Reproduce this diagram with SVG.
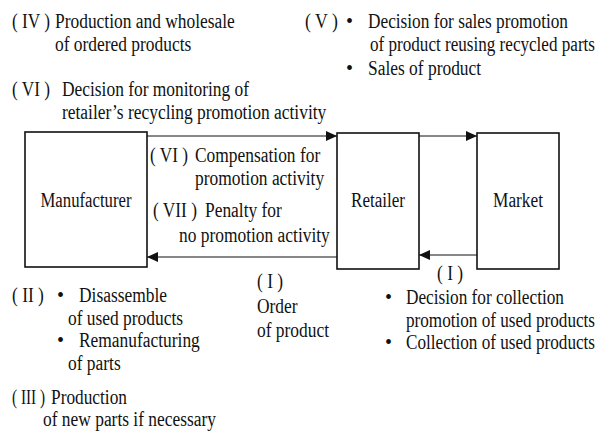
<svg xmlns="http://www.w3.org/2000/svg" width="602" height="439" viewBox="0 0 602 439">
<defs>
  <marker id="ah" markerUnits="userSpaceOnUse" markerWidth="12" markerHeight="10" refX="11" refY="5" orient="auto">
    <path d="M0,0 L11,5 L0,10 z" fill="#111"/>
  </marker>
</defs>
<rect width="602" height="439" fill="#fff"/>

<g id="connectors" stroke="#111" stroke-width="1" fill="none" marker-end="url(#ah)">
  <line x1="147" y1="136" x2="337" y2="136"/>
  <line x1="337" y1="257" x2="147" y2="257"/>
  <line x1="419" y1="136" x2="477" y2="136"/>
  <line x1="477" y1="255" x2="419" y2="255"/>
</g>

<g id="manufacturer">
  <rect x="25" y="132" width="122" height="135" fill="#fff" stroke="#111" stroke-width="1.6"/>
  <text x="86" y="207" font-family="Liberation Serif" font-size="20" fill="#111" text-anchor="middle" textLength="91" lengthAdjust="spacingAndGlyphs">Manufacturer</text>
</g>
<g id="retailer">
  <rect x="337" y="133" width="82" height="136" fill="#fff" stroke="#111" stroke-width="1.6"/>
  <text x="378" y="207" font-family="Liberation Serif" font-size="20" fill="#111" text-anchor="middle" textLength="54" lengthAdjust="spacingAndGlyphs">Retailer</text>
</g>
<g id="market">
  <rect x="477" y="133" width="82" height="136" fill="#fff" stroke="#111" stroke-width="1.6"/>
  <text x="518" y="207" font-family="Liberation Serif" font-size="20" fill="#111" text-anchor="middle" textLength="50" lengthAdjust="spacingAndGlyphs">Market</text>
</g>

<g id="labels" font-family="Liberation Serif" font-size="20" fill="#111">
  <text x="12" y="28" textLength="38" lengthAdjust="spacingAndGlyphs">( IV )</text>
  <text x="55" y="28" textLength="179.8" lengthAdjust="spacingAndGlyphs">Production and wholesale</text>
  <text x="55" y="51" textLength="136.3" lengthAdjust="spacingAndGlyphs">of ordered products</text>

  <text x="12" y="96" textLength="38" lengthAdjust="spacingAndGlyphs">( VI )</text>
  <text x="62" y="96" textLength="187" lengthAdjust="spacingAndGlyphs">Decision for monitoring of</text>
  <text x="62" y="119" textLength="264.3" lengthAdjust="spacingAndGlyphs">retailer&#8217;s recycling promotion activity</text>

  <text x="305" y="28" textLength="32.9" lengthAdjust="spacingAndGlyphs">( V )</text>
  <text x="346" y="28">&#8226;</text>
  <text x="368" y="28" textLength="200" lengthAdjust="spacingAndGlyphs">Decision for sales promotion</text>
  <text x="370" y="51" textLength="225" lengthAdjust="spacingAndGlyphs">of product reusing recycled parts</text>
  <text x="346" y="75">&#8226;</text>
  <text x="368" y="75" textLength="113.1" lengthAdjust="spacingAndGlyphs">Sales of product</text>

  <text x="150" y="162" textLength="38" lengthAdjust="spacingAndGlyphs">( VI )</text>
  <text x="195" y="162" textLength="125.2" lengthAdjust="spacingAndGlyphs">Compensation for</text>
  <text x="195" y="185" textLength="129.1" lengthAdjust="spacingAndGlyphs">promotion activity</text>
  <text x="153" y="217" textLength="44" lengthAdjust="spacingAndGlyphs">( VII )</text>
  <text x="205" y="217" textLength="76.8" lengthAdjust="spacingAndGlyphs">Penalty for</text>
  <text x="179" y="242" textLength="150.8" lengthAdjust="spacingAndGlyphs">no promotion activity</text>

  <text x="257" y="288" textLength="26.1" lengthAdjust="spacingAndGlyphs">( I )</text>
  <text x="257" y="313" textLength="40.6" lengthAdjust="spacingAndGlyphs">Order</text>
  <text x="257" y="337" textLength="72" lengthAdjust="spacingAndGlyphs">of product</text>

  <text x="437" y="280" textLength="26.1" lengthAdjust="spacingAndGlyphs">( I )</text>
  <text x="385" y="304">&#8226;</text>
  <text x="406" y="304" textLength="158" lengthAdjust="spacingAndGlyphs">Decision for collection</text>
  <text x="406" y="327" textLength="189" lengthAdjust="spacingAndGlyphs">promotion of used products</text>
  <text x="385" y="349">&#8226;</text>
  <text x="406" y="349" textLength="189" lengthAdjust="spacingAndGlyphs">Collection of used products</text>

  <text x="12" y="302" textLength="31.9" lengthAdjust="spacingAndGlyphs">( II )</text>
  <text x="57" y="302">&#8226;</text>
  <text x="79" y="302" textLength="88" lengthAdjust="spacingAndGlyphs">Disassemble</text>
  <text x="68" y="325" textLength="115" lengthAdjust="spacingAndGlyphs">of used products</text>
  <text x="57" y="347">&#8226;</text>
  <text x="79" y="347" textLength="120.8" lengthAdjust="spacingAndGlyphs">Remanufacturing</text>
  <text x="68" y="370" textLength="52.7" lengthAdjust="spacingAndGlyphs">of parts</text>

  <text x="12" y="404" textLength="33" lengthAdjust="spacingAndGlyphs">( III )</text>
  <text x="51" y="404" textLength="76" lengthAdjust="spacingAndGlyphs">Production</text>
  <text x="43" y="426" textLength="173" lengthAdjust="spacingAndGlyphs">of new parts if necessary</text>
</g>
</svg>
